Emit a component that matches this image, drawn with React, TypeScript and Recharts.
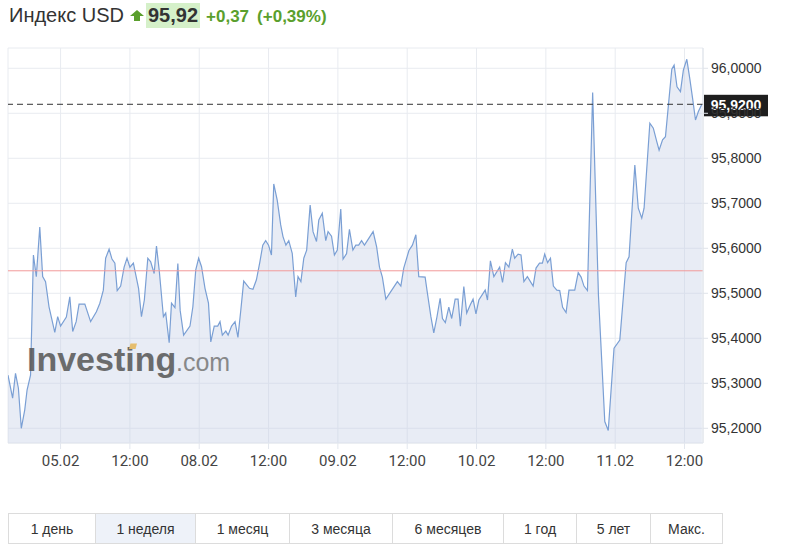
import React from 'react';
import { ComposedChart, Area, XAxis, YAxis, CartesianGrid, ReferenceLine } from 'recharts';

// Hours relative to 05.02 00:00 (trading time)
const hours = [
  -9.1, -8.3, -7.8, -7.3, -6.8, -6.2, -5.8, -5.2, -4.7, -4.2, -3.6, -3.1, -2.6, -2.0, -1.0, -0.5,
  0.0, 1.0, 1.6, 2.1, 2.7, 3.2, 4.2, 5.2, 6.2, 6.8, 7.4, 7.8, 8.4, 8.9, 9.4, 9.8, 10.4, 11.0, 11.5,
  12.0, 12.6, 13.5, 14.0, 14.5, 15.1, 15.6, 16.2, 16.6, 17.1, 17.8, 18.2, 18.8, 19.2, 19.8, 20.3,
  20.7, 21.3, 22.4, 22.9, 23.4, 23.9, 24.4, 25.0, 25.6, 26.0, 26.6, 27.2, 27.6, 28.0, 28.6, 29.0,
  29.6, 30.2, 30.7, 31.2, 31.7, 32.7, 33.3, 33.9, 34.5, 35.0, 35.5, 36.0, 36.5, 36.9, 37.5, 38.1,
  38.5, 39.0, 39.5, 40.1, 40.7, 41.1, 41.6, 42.1, 42.6, 43.2, 43.7, 44.3, 44.7, 45.3, 45.9, 46.3,
  46.9, 47.4, 47.9, 48.5, 48.9, 49.5, 50.0, 50.6, 51.1, 51.6, 52.1, 52.6, 54.1, 54.7, 55.2, 55.7,
  56.3, 58.3, 58.9, 59.4, 60.3, 60.9, 61.5, 62.0, 63.1, 63.5, 64.1, 64.6, 65.1, 65.7, 66.1, 66.6,
  67.2, 67.7, 68.3, 68.8, 69.2, 69.8, 70.3, 70.9, 71.4, 71.9, 72.4, 73.5, 73.9, 74.4, 75.0, 76.0,
  76.5, 77.0, 77.6, 78.2, 78.6, 79.2, 79.7, 80.2, 80.8, 81.8, 82.3, 82.9, 83.4, 83.8, 84.3, 84.8,
  85.3, 85.9, 86.4, 86.9, 87.5, 88.0, 89.0, 89.6, 90.1, 90.6, 91.2, 92.1, 93.1, 94.2, 94.8, 95.8,
  96.8, 97.9, 98.4, 99.4, 100.0, 100.6, 101.0, 102.0, 102.6, 103.2, 103.6, 104.2, 104.7, 105.8,
  106.2, 106.7, 107.3, 107.8, 108.4, 108.9, 109.4, 109.9, 110.4, 111.0,
];

const prices = [
  95.318, 95.267, 95.322, 95.289, 95.2, 95.241, 95.285, 95.318, 95.585, 95.537, 95.647, 95.537, 95.526, 95.47, 95.413, 95.448,
  95.427, 95.447, 95.492, 95.415, 95.437, 95.476, 95.476, 95.437, 95.459, 95.478, 95.507, 95.578, 95.598, 95.576, 95.567, 95.506, 95.516, 95.558, 95.578,
  95.558, 95.567, 95.511, 95.448, 95.485, 95.578, 95.57, 95.544, 95.605, 95.548, 95.448, 95.456, 95.39, 95.478, 95.468, 95.566,
  95.462, 95.407, 95.427, 95.47, 95.552, 95.578, 95.559, 95.511, 95.478, 95.392, 95.427, 95.427, 95.437, 95.407, 95.416, 95.407,
  95.427, 95.437, 95.402, 95.463, 95.527, 95.511, 95.509, 95.53, 95.57, 95.607, 95.617, 95.607, 95.585, 95.743, 95.707, 95.652,
  95.626, 95.607, 95.617, 95.589, 95.492, 95.537, 95.526, 95.578, 95.596, 95.696, 95.637, 95.615, 95.663, 95.678, 95.617, 95.637,
  95.627, 95.585, 95.596, 95.687, 95.576, 95.588, 95.642, 95.596, 95.607, 95.607, 95.617, 95.607, 95.637, 95.604, 95.558, 95.536,
  95.487, 95.526, 95.516, 95.556, 95.595, 95.607, 95.63, 95.537, 95.536, 95.5, 95.448, 95.412, 95.444, 95.489, 95.444, 95.435,
  95.469, 95.444, 95.487, 95.487, 95.427, 95.515, 95.456, 95.474, 95.487, 95.454, 95.485, 95.507, 95.485, 95.572, 95.537, 95.558,
  95.524, 95.568, 95.558, 95.598, 95.578, 95.587, 95.585, 95.526, 95.537, 95.516, 95.556, 95.567, 95.567, 95.587, 95.568, 95.578,
  95.516, 95.507, 95.506, 95.469, 95.457, 95.507, 95.507, 95.546, 95.536, 95.516, 95.506, 95.946, 95.496, 95.215, 95.195, 95.378,
  95.396, 95.568, 95.581, 95.785, 95.689, 95.667, 95.689, 95.878, 95.867, 95.837, 95.818, 95.841, 95.848, 95.998,
  96.007, 95.959, 95.948, 95.996, 96.02, 95.978, 95.933, 95.885, 95.904, 95.92,
];

const xTicks = [0, 12, 24, 36, 48, 60, 72, 84, 96, 108];
const xTickLabels = ['05.02', '12:00', '08.02', '12:00', '09.02', '12:00', '10.02', '12:00', '11.02', '12:00'];
const yTicks = [95.2, 95.3, 95.4, 95.5, 95.6, 95.7, 95.8, 95.9, 96.0];

const instrumentName = 'Индекс USD';
const lastPrice = 95.92;
const prevClose = 95.55;
const changeAbs = 0.37;
const changePct = 0.39;

const periods = ['1 день', '1 неделя', '1 месяц', '3 месяца', '6 месяцев', '1 год', '5 лет', 'Макс.'];
const selectedPeriod = '1 неделя';

const data = hours.map((t, i) => ({ t, v: prices[i] }));

const comma = (n: number, d: number) => n.toFixed(d).replace('.', ',');

// layout only
const buttonWidths = [86, 100, 94, 103, 111, 73, 74, 72];

const GREEN = '#5a9f2d';
const FONT = 'Arial, "Liberation Sans", sans-serif';

const PriceLabel = (props: any) => {
  const vb = props.viewBox || {};
  const x = (vb.x || 0) + (vb.width || 0);
  const y = vb.y || 0;
  return (
    <g>
      <rect x={x + 1} y={y - 9.5} width={64} height={21.5} fill="#1e1e1e" />
      <text x={x + 33} y={y + 6} textAnchor="middle" fill="#fff" fontSize={14} fontWeight="bold" fontFamily={FONT}>
        {comma(lastPrice, 4)}
      </text>
    </g>
  );
};

export default function App() {
  return (
    <div style={{ position: 'absolute', left: 0, top: 0, width: 792, height: 554, background: '#fff', fontFamily: FONT, overflow: 'hidden' }}>
      {/* Header */}
      <div style={{ position: 'absolute', left: 9, top: 0, height: 30, display: 'flex', alignItems: 'baseline', whiteSpace: 'nowrap' }}>
        <span style={{ fontSize: 20, color: '#333', lineHeight: '30px' }}>{instrumentName}</span>
        <svg width={14} height={12} style={{ marginLeft: 6, marginRight: 1 }} viewBox="0 0 14 12">
          <polygon points="7,0 14,6 10,6 10,11 4,11 4,6 0,6" fill={GREEN} />
        </svg>
        <span style={{ fontSize: 20, fontWeight: 'bold', color: '#333', background: '#d5f0c9', padding: '0 2px', lineHeight: '25px', marginLeft: 1 }}>
          {comma(lastPrice, 2)}
        </span>
        <span style={{ fontSize: 17, fontWeight: 'bold', color: GREEN, marginLeft: 6 }}>+{comma(changeAbs, 2)}</span>
        <span style={{ fontSize: 17, fontWeight: 'bold', color: GREEN, marginLeft: 8 }}>(+{comma(changePct, 2)}%)</span>
      </div>

      {/* Chart */}
      <div style={{ position: 'absolute', left: 0, top: 0 }}>
        <ComposedChart width={792} height={480} data={data} margin={{ top: 48, right: 22, bottom: 7, left: 8 }}>
          <CartesianGrid stroke="#e8ebf0" strokeWidth={1} vertical={true} horizontal={true} />
          <XAxis
            dataKey="t"
            type="number"
            domain={[-9.1, 111.2]}
            ticks={xTicks}
            tickFormatter={(v: number) => xTickLabels[xTicks.indexOf(v)] ?? ''}
            height={30}
            tickSize={6}
            tickMargin={6}
            axisLine={{ stroke: '#e3e7ee' }}
            tickLine={{ stroke: '#e3e7ee' }}
            tick={{ fill: '#444', fontSize: 15, fontFamily: 'Roboto, sans-serif' }}
            allowDataOverflow
          />
          <YAxis
            orientation="right"
            type="number"
            domain={[95.1673, 96.0451]}
            ticks={yTicks}
            width={67}
            tickSize={5}
            tickMargin={3}
            axisLine={{ stroke: '#dfe3ea' }}
            tickLine={{ stroke: '#dfe3ea' }}
            tickFormatter={(v: number) => comma(v, 4)}
            tick={{ fill: '#333', fontSize: 14, fontFamily: FONT }}
            allowDataOverflow
          />
          <Area
            type="linear"
            dataKey="v"
            stroke="#7a9fd4"
            strokeWidth={1.2}
            fill="#c5d0e6"
            fillOpacity={0.4}
            baseValue="dataMin"
            dot={false}
            activeDot={false}
            isAnimationActive={false}
          />
          <ReferenceLine y={prevClose} stroke="#f29a9a" strokeWidth={1} ifOverflow="extendDomain" />
          <ReferenceLine y={lastPrice} stroke="#333" strokeDasharray="6 4" strokeWidth={1} label={<PriceLabel />} />
        </ComposedChart>
      </div>

      {/* Watermark */}
      <svg width={792} height={554} style={{ position: 'absolute', left: 0, top: 0, pointerEvents: 'none' }}>
        <g opacity={0.85}>
          <text x={27} y={371} fontSize={34} fontWeight="bold" fill="#555" fontFamily={FONT}>
            Investing
          </text>
          <text x={176} y={371} fontSize={25} fill="#777" fontFamily={FONT}>
            .com
          </text>
          <polygon points="129,349 130.5,343.5 137,343.5 135.5,349" fill="#e6b757" />
        </g>
      </svg>

      {/* Period buttons */}
      <div style={{ position: 'absolute', left: 8, top: 513, display: 'flex', border: '1px solid #dcdcdc', height: 31, boxSizing: 'border-box' }}>
        {periods.map((p, i) => (
          <div
            key={p}
            style={{
              width: buttonWidths[i],
              boxSizing: 'border-box',
              borderLeft: i === 0 ? 'none' : '1px solid #dcdcdc',
              background: p === selectedPeriod ? '#eef2f9' : '#fff',
              fontSize: 14,
              color: '#333',
              display: 'flex',
              alignItems: 'center',
              justifyContent: 'center',
              whiteSpace: 'nowrap',
            }}
          >
            {p}
          </div>
        ))}
      </div>
    </div>
  );
}
